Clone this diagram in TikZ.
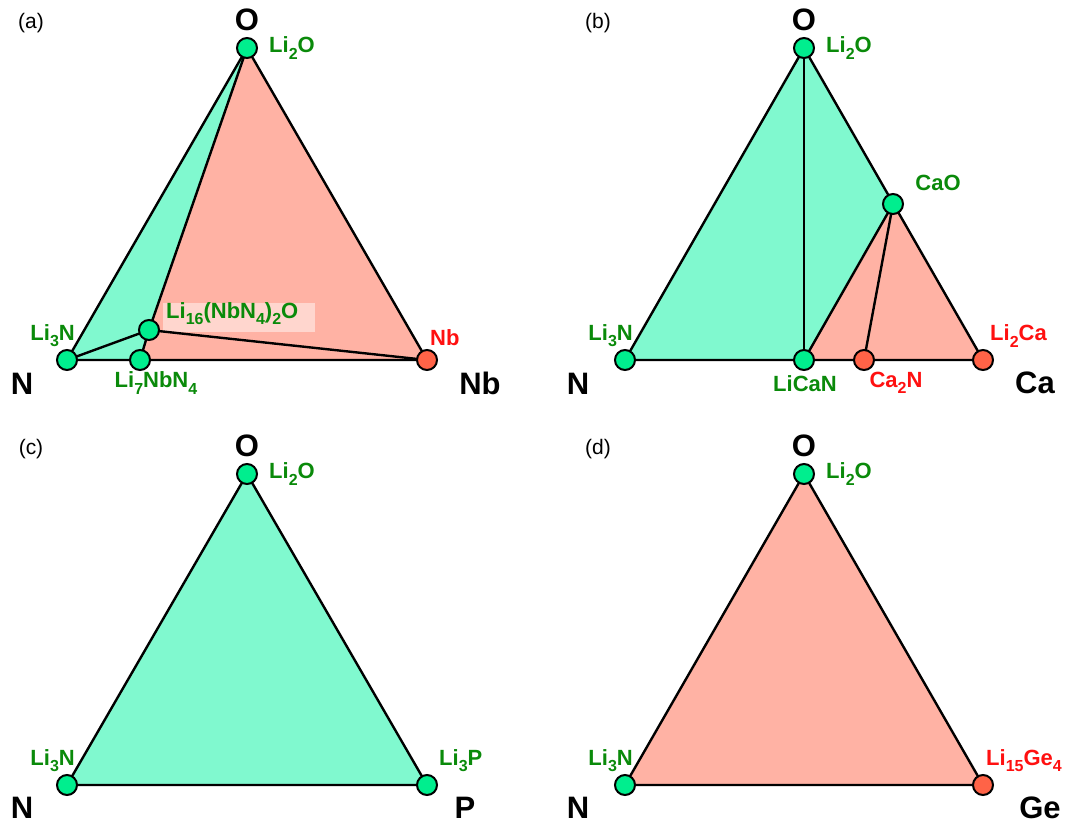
\documentclass[tikz,border=0pt]{standalone}
\usepackage{fontspec}
\setmainfont{Liberation Sans}
\definecolor{gfc}{HTML}{80F9CF}
\definecolor{pfc}{HTML}{FFB2A4}
\definecolor{gdc}{HTML}{00EE8E}
\definecolor{rdc}{HTML}{FF6347}
\definecolor{glc}{HTML}{0A8A0A}
\definecolor{rlc}{HTML}{FF1010}
\definecolor{lbg}{HTML}{FFD6CE}
\newcommand\chs[1]{\raisebox{-0.28em}{\fontsize{16}{16}\selectfont #1}}
\begin{document}
\begin{tikzpicture}[x=1pt,y=-1pt,
  gfill/.style={fill=gfc},
  pfill/.style={fill=pfc},
  edge/.style={line width=2.4pt,line join=round,line cap=round},
  gdot/.style={circle,draw,line width=2pt,fill=gdc,minimum size=20pt,inner sep=0pt},
  rdot/.style={gdot,fill=rdc},
  glab/.style={text=glc,font=\bfseries\fontsize{22}{26}\selectfont,inner sep=0pt},
  rlab/.style={glab,text=rlc},
  vlab/.style={font=\bfseries\fontsize{31}{34}\selectfont,inner sep=0pt},
  plab/.style={font=\fontsize{21}{24}\selectfont,inner sep=0pt}]
\useasboundingbox (0,0) rectangle (1071,822);

% ---------------- panel (a)
\coordinate (aO) at (247,48);
\coordinate (aN) at (67,360);
\coordinate (aNb) at (427,360);
\coordinate (aL) at (149,330);
\coordinate (aS) at (140,360);
\fill[gfill] (aN) -- (aO) -- (aL) -- (aS) -- cycle;
\fill[pfill] (aO) -- (aNb) -- (aS) -- (aL) -- cycle;
\node[fill=lbg,inner sep=0pt,minimum height=29pt,minimum width=152pt] (aLbg) at (239,317) {};
\draw[edge] (aO) -- (aN) -- (aNb) -- cycle;
\draw[edge] (aO) -- (aL);
\draw[edge] (aN) -- (aL);
\draw[edge] (aL) -- (aS);
\draw[edge] (aL) -- (aNb);
\node[gdot] (aOd) at (aO) {};
\node[gdot] (aNd) at (aN) {};
\node[rdot] (aNbd) at (aNb) {};
\node[gdot] (aLd) at (aL) {};
\node[gdot] (aSd) at (aS) {};
\node[glab,anchor=west] (aOl) at (269,48) {Li\chs{2}O};
\node[glab,anchor=east] (aNl) at (75,336) {Li\chs{3}N};
\node[glab] (aSl) at (156,383) {Li\chs{7}NbN\chs{4}};
\node[glab,anchor=west] (aLl) at (166,314) {Li\chs{16}(NbN\chs{4})\chs{2}O};
\node[rlab,anchor=west] (aNbl) at (430,338) {Nb};
\node[vlab] (aOv) at (247,20) {O};
\node[vlab] (aNv) at (22,384) {N};
\node[vlab] (aNbv) at (480,383) {Nb};
\node[plab] (ap) at (31,23) {(a)};

% ---------------- panel (b)
\coordinate (bO) at (804,48);
\coordinate (bN) at (625,360);
\coordinate (bCa) at (983,360);
\coordinate (bL) at (804,360);
\coordinate (bC) at (893,204);
\coordinate (bT) at (864,360);
\fill[gfill] (bN) -- (bO) -- (bC) -- (bL) -- cycle;
\fill[pfill] (bC) -- (bCa) -- (bL) -- cycle;
\draw[edge] (bO) -- (bN) -- (bCa) -- cycle;
\draw[edge] (bO) -- (bL);
\draw[edge] (bC) -- (bL);
\draw[edge] (bC) -- (bT);
\node[gdot] (bOd) at (bO) {};
\node[gdot] (bNd) at (bN) {};
\node[rdot] (bCad) at (bCa) {};
\node[gdot] (bLd) at (bL) {};
\node[gdot] (bCd) at (bC) {};
\node[rdot] (bTd) at (bT) {};
\node[glab,anchor=west] (bOl) at (826,48) {Li\chs{2}O};
\node[glab,anchor=east] (bNl) at (633,336) {Li\chs{3}N};
\node[glab] (bLl) at (805,384) {LiCaN};
\node[rlab] (bTl) at (896,383) {Ca\chs{2}N};
\node[glab] (bCl) at (938,183) {CaO};
\node[rlab,anchor=west] (bCal) at (990,336) {Li\chs{2}Ca};
\node[vlab] (bOv) at (804,20) {O};
\node[vlab] (bNv) at (578,384) {N};
\node[vlab] (bCav) at (1035,383) {Ca};
\node[plab] (bp) at (598,23) {(b)};

% ---------------- panel (c)
\coordinate (cO) at (247,474);
\coordinate (cN) at (67,785);
\coordinate (cP) at (427,785);
\fill[gfill] (cN) -- (cO) -- (cP) -- cycle;
\draw[edge] (cO) -- (cN) -- (cP) -- cycle;
\node[gdot] (cOd) at (cO) {};
\node[gdot] (cNd) at (cN) {};
\node[gdot] (cPd) at (cP) {};
\node[glab,anchor=west] (cOl) at (269,474) {Li\chs{2}O};
\node[glab,anchor=east] (cNl) at (75,761) {Li\chs{3}N};
\node[glab,anchor=west] (cPl) at (439,761) {Li\chs{3}P};
\node[vlab] (cOv) at (247,446) {O};
\node[vlab] (cNv) at (22,808) {N};
\node[vlab] (cPv) at (465,808) {P};
\node[plab] (cp) at (31,449) {(c)};

% ---------------- panel (d)
\coordinate (dO) at (804,474);
\coordinate (dN) at (625,785);
\coordinate (dG) at (983,785);
\fill[pfill] (dN) -- (dO) -- (dG) -- cycle;
\draw[edge] (dO) -- (dN) -- (dG) -- cycle;
\node[gdot] (dOd) at (dO) {};
\node[gdot] (dNd) at (dN) {};
\node[rdot] (dGd) at (dG) {};
\node[glab,anchor=west] (dOl) at (826,474) {Li\chs{2}O};
\node[glab,anchor=east] (dNl) at (633,761) {Li\chs{3}N};
\node[rlab,anchor=west] (dGl) at (986,761) {Li\chs{15}Ge\chs{4}};
\node[vlab] (dOv) at (804,446) {O};
\node[vlab] (dNv) at (578,808) {N};
\node[vlab] (dGv) at (1040,808) {Ge};
\node[plab] (dp) at (598,449) {(d)};
\end{tikzpicture}
\end{document}
